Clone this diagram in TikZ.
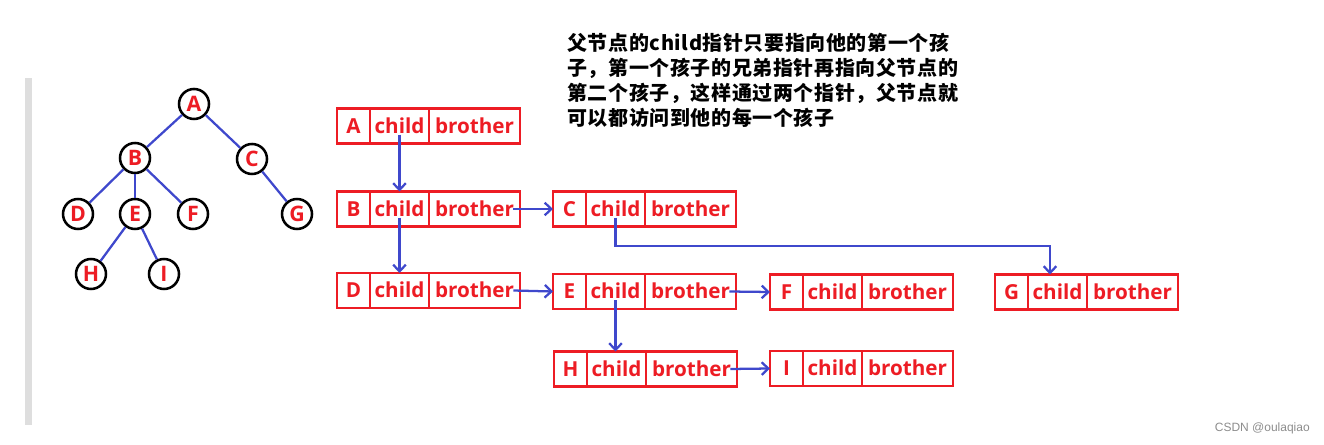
\documentclass[tikz,border=0pt]{standalone}
\usepackage{fontspec}
\setmainfont{Open Sans}
\newfontfamily\cjk[LetterSpace=3]{Noto Sans CJK SC}
\newfontfamily\wm{Liberation Sans}
\usetikzlibrary{arrows.meta}
\definecolor{pred}{RGB}{237,28,36}
\definecolor{pblue}{RGB}{63,72,204}
\tikzset{
  cellbase/.style={draw=pred, line width=1.9pt, outer sep=0pt, inner sep=0pt,
    minimum height=26.25pt, text=pred, font=\fontsize{15.5}{18}\selectfont\bfseries,
    text height=13pt, text depth=2pt, anchor=west},
  cellL/.style={cellbase, minimum width=24.75pt},
  cellC/.style={cellbase, minimum width=44.25pt},
  cellB/.style={cellbase, minimum width=68.25pt},
  tnode/.style={circle, draw=black, line width=1.9pt, fill=white, minimum size=22.5pt,
    inner sep=0pt, text=pred, font=\fontsize{16}{18}\selectfont\bfseries},
  tedge/.style={draw=pblue, line width=1.7pt},
  arr/.style={draw=pblue, line width=1.7pt, -{Straight Barb[length=5pt,width=9.5pt]}},
  note/.style={anchor=west, inner sep=0pt, font=\fontsize{15}{18}\selectfont\cjk\bfseries, text=black}
}
\newcommand\lbox[4]{%
  \node[cellL] (#1) at (#3,#4) {#2};
  \node[cellC] (#1c) at (#1.east) {child};
  \node[cellB] (#1b) at (#1c.east) {brother};}
\begin{document}
\begin{tikzpicture}[x=0.75pt,y=-0.75pt]
\useasboundingbox (0,0) rectangle (1324,445);
% gray bar
\fill[black!13] (25,78) rectangle (32,425);
% tree
\node[tnode] (tA) at (194,104) {A};
\node[tnode] (tB) at (135,158) {B};
\node[tnode] (tC) at (252,159) {C};
\node[tnode] (tD) at (78,214) {D};
\node[tnode] (tE) at (135,214) {E};
\node[tnode] (tF) at (193,214) {F};
\node[tnode] (tG) at (297,214) {G};
\node[tnode] (tH) at (91,274) {H};
\node[tnode] (tI) at (164,274) {I};
\draw[tedge] (tA) -- (tB);
\draw[tedge] (tA) -- (tC);
\draw[tedge] (tB) -- (tD);
\draw[tedge] (tB) -- (tE);
\draw[tedge] (tB) -- (tF);
\draw[tedge] (tC) -- (tG);
\draw[tedge] (tE) -- (tH);
\draw[tedge] (tE) -- (tI);
% boxes
\lbox{A}{A}{337}{126}
\lbox{B}{B}{337}{209}
\lbox{C}{C}{553}{209}
\lbox{D}{D}{337}{290.5}
\lbox{E}{E}{553}{291.5}
\lbox{F}{F}{770}{292}
\lbox{G}{G}{995}{292}
\lbox{H}{H}{554}{369}
\lbox{I}{I}{770}{368.5}
% arrows
\coordinate (gcorner) at (1050,246);
\draw[arr] ([yshift=-6.5pt]Ac.center) -- (Bc.north);
\draw[arr] ([yshift=-6.5pt]Bc.center) -- (Dc.north);
\draw[arr] ([xshift=-5pt]Bb.east) -- (C.west);
\draw[arr] ([yshift=-6.5pt]Cc.center) |- (gcorner) -- (gcorner |- Gc.north);
\draw[arr] ([xshift=-5pt]Db.east) -- (E.west);
\draw[arr] ([yshift=-6.5pt]Ec.center) -- (Ec.center |- Hc.north);
\draw[arr] ([xshift=-5pt]Eb.east) -- (F.west);
\draw[arr] ([xshift=-5pt]Hb.east) -- (I.west);
% note
\node[note] (n1) at (567,43) {父节点的child指针只要指向他的第一个孩};
\node[note] (n2) at (567,68) {子，第一个孩子的兄弟指针再指向父节点的};
\node[note] (n3) at (567,93) {第二个孩子，这样通过两个指针，父节点就};
\node[note] (n4) at (567,118) {可以都访问到他的每一个孩子};
% watermark
\node[anchor=east, inner sep=0pt, text=black!45, font=\fontsize{9}{11}\selectfont\wm] (wm) at (1310,428) {CSDN @oulaqiao};
\end{tikzpicture}
\end{document}
